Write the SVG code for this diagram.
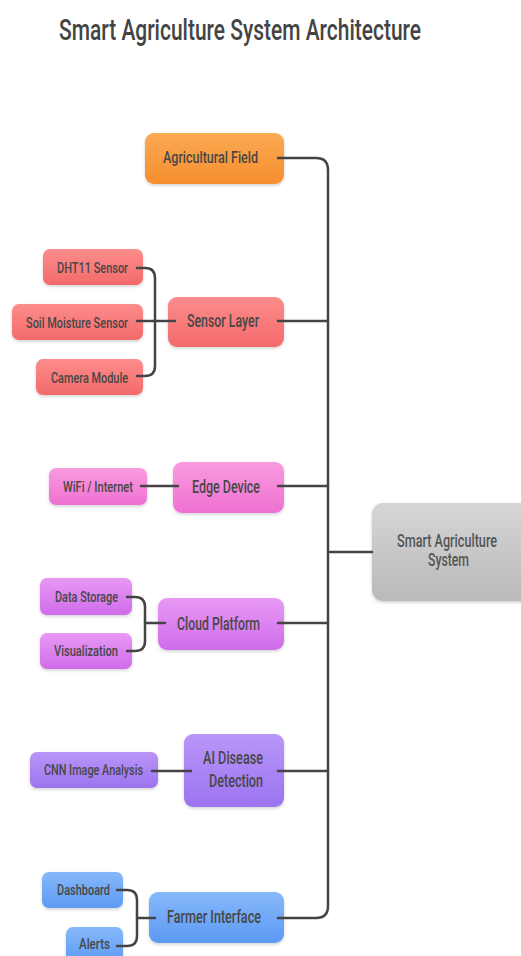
<svg xmlns="http://www.w3.org/2000/svg" width="521" height="956" viewBox="0 0 521 956">
<defs>
<linearGradient id="gOrange" x1="0" y1="0" x2="0" y2="1"><stop offset="0" stop-color="#FBAA52"/><stop offset="1" stop-color="#F68E2E"/></linearGradient>
<linearGradient id="gRed" x1="0" y1="0" x2="0" y2="1"><stop offset="0" stop-color="#FC8C8C"/><stop offset="1" stop-color="#F46A6A"/></linearGradient>
<linearGradient id="gPink" x1="0" y1="0" x2="0" y2="1"><stop offset="0" stop-color="#F99BDF"/><stop offset="1" stop-color="#EF70D2"/></linearGradient>
<linearGradient id="gPurple" x1="0" y1="0" x2="0" y2="1"><stop offset="0" stop-color="#E799F4"/><stop offset="1" stop-color="#D06CEB"/></linearGradient>
<linearGradient id="gViolet" x1="0" y1="0" x2="0" y2="1"><stop offset="0" stop-color="#B996F8"/><stop offset="1" stop-color="#9C73F0"/></linearGradient>
<linearGradient id="gBlue" x1="0" y1="0" x2="0" y2="1"><stop offset="0" stop-color="#86B8FA"/><stop offset="1" stop-color="#5C9AF4"/></linearGradient>
<linearGradient id="gGray" x1="0" y1="0" x2="0" y2="1"><stop offset="0" stop-color="#D6D6D6"/><stop offset="1" stop-color="#B9B9B9"/></linearGradient>
<filter id="sh" x="-10%" y="-10%" width="120%" height="130%"><feDropShadow dx="0" dy="1.5" stdDeviation="1.5" flood-color="#000" flood-opacity="0.18"/></filter>
</defs>
<style>
text{font-family:Roboto,"Liberation Sans",sans-serif;font-weight:500;fill:#474747;text-anchor:middle}
.title{font-size:29px;fill:#444}
.main{font-size:19px}
.leaf{font-size:15px}
.box{filter:url(#sh)}
.conn path{fill:none;stroke:#444;stroke-width:2.5;stroke-linecap:round;stroke-linejoin:round}
</style>
<rect width="521" height="956" fill="#fff"/>
<text class="title" x="240" y="40" textLength="362" lengthAdjust="spacingAndGlyphs">Smart Agriculture System Architecture</text>

<g id="agricultural-field"><rect class="box" x="145" y="133" width="139" height="51" rx="9" fill="url(#gOrange)"/><text x="210.5" y="162.5" font-size="16" textLength="95" lengthAdjust="spacingAndGlyphs">Agricultural Field</text></g>

<g id="sensor-layer"><rect class="box" x="168" y="297" width="116" height="50" rx="9" fill="url(#gRed)"/><text class="main" x="223" y="327" textLength="72" lengthAdjust="spacingAndGlyphs">Sensor Layer</text></g>
<g id="dht11"><rect class="box" x="43" y="249" width="100" height="36" rx="7" fill="url(#gRed)"/><text class="leaf" x="92.5" y="272.5" textLength="71" lengthAdjust="spacingAndGlyphs">DHT11 Sensor</text></g>
<g id="soil-moisture"><rect class="box" x="12" y="304" width="131" height="36" rx="7" fill="url(#gRed)"/><text class="leaf" x="77" y="327.5" textLength="102" lengthAdjust="spacingAndGlyphs">Soil Moisture Sensor</text></g>
<g id="camera"><rect class="box" x="36" y="359" width="107" height="36" rx="7" fill="url(#gRed)"/><text class="leaf" x="89.5" y="382.5" textLength="77" lengthAdjust="spacingAndGlyphs">Camera Module</text></g>

<g id="edge-device"><rect class="box" x="173" y="462" width="111" height="51" rx="9" fill="url(#gPink)"/><text class="main" x="226" y="493" textLength="68" lengthAdjust="spacingAndGlyphs">Edge Device</text></g>
<g id="wifi"><rect class="box" x="49" y="468" width="98" height="37" rx="7" fill="url(#gPink)"/><text class="leaf" x="98" y="491.5" textLength="70" lengthAdjust="spacingAndGlyphs">WiFi / Internet</text></g>

<g id="smart-agriculture-system"><rect class="box" x="372" y="503" width="160" height="98" rx="11" fill="url(#gGray)"/><text class="main" x="447" y="547" fill="#555" style="fill:#555" textLength="100" lengthAdjust="spacingAndGlyphs">Smart Agriculture</text><text class="main" x="448.5" y="566" style="fill:#555" textLength="41" lengthAdjust="spacingAndGlyphs">System</text></g>

<g id="cloud-platform"><rect class="box" x="158" y="598" width="126" height="52" rx="9" fill="url(#gPurple)"/><text class="main" x="218.5" y="630" textLength="83" lengthAdjust="spacingAndGlyphs">Cloud Platform</text></g>
<g id="data-storage"><rect class="box" x="40" y="578" width="92" height="37" rx="7" fill="url(#gPurple)"/><text class="leaf" x="86.5" y="602" textLength="63" lengthAdjust="spacingAndGlyphs">Data Storage</text></g>
<g id="visualization"><rect class="box" x="40" y="633" width="92" height="36" rx="7" fill="url(#gPurple)"/><text class="leaf" x="86" y="656" textLength="64" lengthAdjust="spacingAndGlyphs">Visualization</text></g>

<g id="ai-disease-detection"><rect class="box" x="184" y="734" width="100" height="73" rx="9" fill="url(#gViolet)"/><text class="main" x="233" y="764" textLength="60" lengthAdjust="spacingAndGlyphs">AI Disease</text><text class="main" x="236" y="787" textLength="54" lengthAdjust="spacingAndGlyphs">Detection</text></g>
<g id="cnn"><rect class="box" x="30" y="752" width="128" height="36" rx="7" fill="url(#gViolet)"/><text class="leaf" x="93.5" y="775" textLength="99" lengthAdjust="spacingAndGlyphs">CNN Image Analysis</text></g>

<g id="farmer-interface"><rect class="box" x="149" y="892" width="135" height="51" rx="9" fill="url(#gBlue)"/><text class="main" x="214" y="923" textLength="94" lengthAdjust="spacingAndGlyphs">Farmer Interface</text></g>
<g id="dashboard"><rect class="box" x="42" y="872" width="81" height="36" rx="7" fill="url(#gBlue)"/><text class="leaf" x="83.5" y="895" textLength="53" lengthAdjust="spacingAndGlyphs">Dashboard</text></g>
<g id="alerts"><rect class="box" x="66" y="927" width="57" height="36" rx="7" fill="url(#gBlue)"/><text class="leaf" x="94.5" y="949" textLength="31" lengthAdjust="spacingAndGlyphs">Alerts</text></g>

<g class="conn" id="connectors">
<path d="M278 158 H316 Q328 158 328 170 V906 Q328 918 316 918 H278"/>
<path d="M278 321 H328"/>
<path d="M278 486 H328"/>
<path d="M278 623 H328"/>
<path d="M278 771 H328"/>
<path d="M328 552 H372"/>
<path d="M137 268 H145 Q155 268 155 278 V366 Q155 376 145 376 H137"/>
<path d="M137 321 H175"/>
<path d="M141 486 H178"/>
<path d="M127 597 H135 Q145 597 145 607 V641 Q145 651 135 651 H127"/>
<path d="M145 623 H165"/>
<path d="M152 771 H191"/>
<path d="M117 890 H127 Q137 890 137 900 V936 Q137 946 127 946 H117"/>
<path d="M137 918 H155"/>
</g>
</svg>
